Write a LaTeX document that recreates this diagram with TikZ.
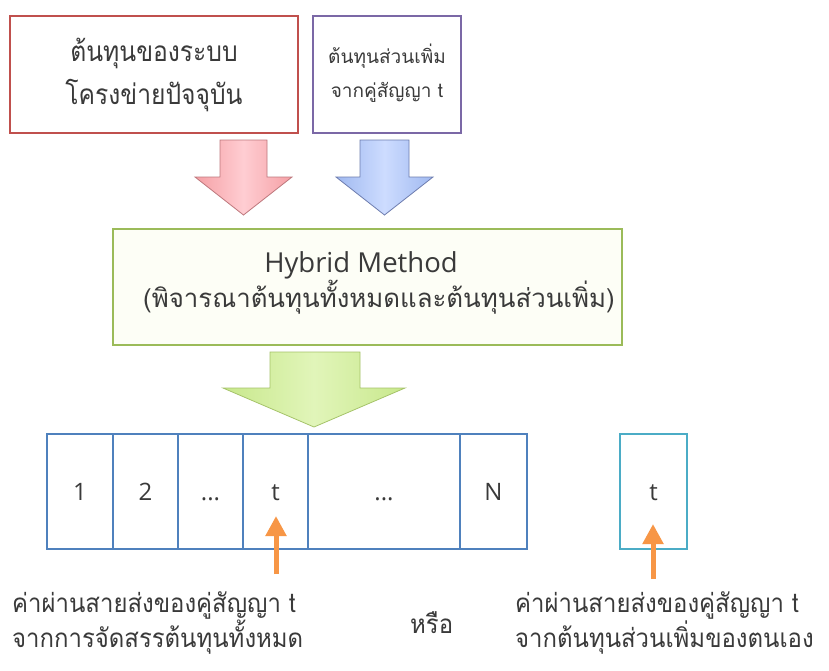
\documentclass[tikz,border=0pt]{standalone}
\usepackage{fontspec}
\setmainfont{Open Sans}
\newfontfamily\thai[Script=Thai]{Loma}
\newfontfamily\thaic[Script=Thai,FakeStretch=0.92]{Loma}
\newfontfamily\thain[Script=Thai,FakeStretch=0.88]{Loma}
\usetikzlibrary{arrows.meta,shadings}
\definecolor{redB}{HTML}{C0504D}
\definecolor{purB}{HTML}{7B68A6}
\definecolor{grnB}{HTML}{9BBB59}
\definecolor{bluB}{HTML}{4F81BD}
\definecolor{tealB}{HTML}{4BACC6}
\definecolor{orgA}{HTML}{F79646}
\definecolor{txt}{HTML}{3A3A3A}
\tikzset{
  boxred/.style={draw=redB,line width=2pt,fill=white,inner sep=0pt},
  boxpur/.style={draw=purB,line width=2pt,fill=white,inner sep=0pt},
  boxgrn/.style={draw=grnB,line width=2pt,fill={rgb,255:red,253;green,254;blue,246},inner sep=0pt},
  cell/.style={draw=bluB,line width=1.6pt,fill=white,minimum height=115pt,inner sep=0pt},
  tcell/.style={draw=tealB,line width=1.6pt,fill=white,minimum height=115pt,minimum width=67pt,inner sep=0pt},
  celltext/.style={text=txt,font=\fontsize{24}{28}\selectfont,anchor=base,inner sep=0pt},
  thaibig/.style={text=txt,inner sep=0pt,font=\thain\fontsize{28}{32}\selectfont},
  thaimid/.style={text=txt,inner sep=0pt,font=\thai\fontsize{25.8}{30}\selectfont},
  thaismall/.style={text=txt,inner sep=0pt,font=\thai\fontsize{19}{22}\selectfont},
  thaibot/.style={text=txt,inner sep=0pt,font=\thaic\fontsize{26}{30}\selectfont},
  latinbig/.style={text=txt,inner sep=0pt,font=\fontsize{27.5}{32}\selectfont},
  orangearrow/.style={draw=orgA,line width=5pt,-{Triangle[width=20pt,length=20pt]}},
}
\begin{document}
\begin{tikzpicture}[x=1pt,y=-1pt]
\useasboundingbox[fill=white] (0,0) rectangle (829,670);

% top boxes
\node[boxred,minimum width=288pt,minimum height=117pt] (red) at (154,74.5) {};
\node[thaibig,anchor=base] (r1) at (154,61) {ต้นทุนของระบบ};
\node[thaibig,anchor=base] (r2) at (154,104) {โครงข่ายปัจจุบัน};

\node[boxpur,minimum width=148pt,minimum height=117pt] (pur) at (387,74.5) {};
\node[thaismall,anchor=base] (p1) at (387,63) {ต้นทุนส่วนเพิ่ม};
\node[thaismall,anchor=base] (p2) at (387,97) {จากคู่สัญญา t};

% block arrows
\shade[left color={rgb,255:red,245;green,160;blue,165},right color={rgb,255:red,245;green,160;blue,165},middle color={rgb,255:red,255;green,205;blue,210},draw={rgb,255:red,190;green,120;blue,125},line width=0.8pt]
  (220,140) -- (267,140) -- (267,177) -- (292,177) -- (243.5,215) -- (195,177) -- (220,177) -- cycle;
\shade[left color={rgb,255:red,160;green,185;blue,240},right color={rgb,255:red,160;green,185;blue,240},middle color={rgb,255:red,205;green,220;blue,255},draw={rgb,255:red,110;green,125;blue,175},line width=0.8pt]
  (360,140) -- (409,140) -- (409,177) -- (433,177) -- (384.5,215) -- (336,177) -- (360,177) -- cycle;

% hybrid box
\node[boxgrn,minimum width=509pt,minimum height=116pt] (hyb) at (367.5,287) {};
\node[latinbig,anchor=base] (h1) at (361,272) {Hybrid Method};
\node[thaimid,anchor=base] (h2) at (379,307) {(พิจารณาต้นทุนทั้งหมดและต้นทุนส่วนเพิ่ม)};

\shade[left color={rgb,255:red,200;green,232;blue,140},right color={rgb,255:red,200;green,232;blue,140},middle color={rgb,255:red,225;green,245;blue,185},draw={rgb,255:red,165;green,195;blue,105},line width=0.8pt]
  (270,352) -- (360,352) -- (360,388) -- (405,388) -- (314,427) -- (223,388) -- (270,388) -- cycle;

% strip of cells
\node[cell,minimum width=66pt] (c1) at (80,491.5) {};
\node[cell,minimum width=65pt] (c2) at (145.5,491.5) {};
\node[cell,minimum width=65pt] (c3) at (210.5,491.5) {};
\node[cell,minimum width=65pt] (c4) at (275.5,491.5) {};
\node[cell,minimum width=152pt] (c5) at (384,491.5) {};
\node[cell,minimum width=67pt] (c6) at (493.5,491.5) {};
\node[celltext] (l1) at (80,500) {1};
\node[celltext] (l2) at (145.5,500) {2};
\node[celltext] (l3) at (210.5,500) {...};
\node[celltext] (l4) at (275.5,500) {t};
\node[celltext] (l5) at (384,500) {...};
\node[celltext] (l6) at (493.5,500) {N};

\node[tcell] (ct) at (653.5,491.5) {};
\node[celltext] (lt) at (653.5,500) {t};

% orange arrows
\coordinate (o1s) at (276,574);
\coordinate (o1e) at (276,516);
\coordinate (o2s) at (653,579);
\coordinate (o2e) at (653,524);
\draw[orangearrow] (o1s) -- (o1e);
\draw[orangearrow] (o2s) -- (o2e);

% bottom texts
\node[thaibot,anchor=base west] (b1) at (12,612) {ค่าผ่านสายส่งของคู่สัญญา t};
\node[thaibot,anchor=base west] (b2) at (12,647) {จากการจัดสรรต้นทุนทั้งหมด};
\node[thaibot,anchor=base west] (or) at (410,633) {หรือ};
\node[thaibot,anchor=base west] (b3) at (515,612) {ค่าผ่านสายส่งของคู่สัญญา t};
\node[thaibot,anchor=base west] (b4) at (515,647) {จากต้นทุนส่วนเพิ่มของตนเอง};
\end{tikzpicture}
\end{document}
